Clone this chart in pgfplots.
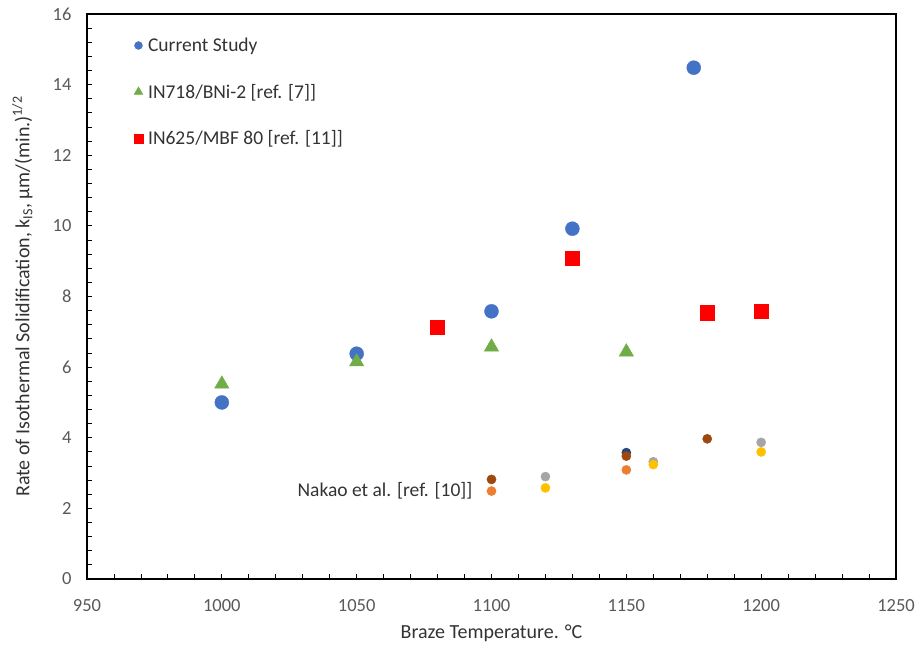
\documentclass[border=0pt]{standalone}
\usepackage{fontspec}
\setmainfont{Carlito}
\usepackage{pgfplots}
\pgfplotsset{compat=1.18}
\definecolor{cblue}{HTML}{4472C4}
\definecolor{cgreen}{HTML}{70AD47}
\definecolor{cred}{HTML}{FF0000}
\definecolor{cbrown}{HTML}{9E480E}
\definecolor{corange}{HTML}{ED7D31}
\definecolor{cgray}{HTML}{A5A5A5}
\definecolor{cyellow}{HTML}{FFC000}
\definecolor{cdblue}{HTML}{264478}
\definecolor{tickgray}{HTML}{595959}
\definecolor{labgray}{HTML}{333333}
\begin{document}
\begin{tikzpicture}
\begin{axis}[name=ax, scale only axis, width=809pt, height=565pt,
 xmin=950, xmax=1250, ymin=0, ymax=16,
 xtick={950,1000,...,1250}, ytick={0,2,...,16},
 minor x tick num=4, minor y tick num=4,
 tick pos=left, tick align=inside,
 major tick length=5pt, minor tick length=5pt,
 axis line style={line width=1.2pt, black},
 every tick/.style={line width=0.8pt, black},
 /pgf/number format/assume math mode=true,
 /pgf/number format/1000 sep={},
 ticklabel style={font=\fontsize{18.5}{22}\selectfont, text=tickgray},
 xticklabel style={yshift=-17pt},
 yticklabel style={xshift=-12pt},
 xlabel={Braze Temperature. °C},
 ylabel={Rate of Isothermal Solidification, k\textsubscript{IS}, μm/(min.)\textsuperscript{1/2}},
 label style={font=\fontsize{20}{24}\selectfont, text=labgray},
 xlabel style={at={(axis description cs:0.5,-0.0956)}, anchor=center},
 ylabel style={at={(axis description cs:-0.080,0.5)}, anchor=center},
 legend style={draw=none, fill=none, at={(axis description cs:0.054,0.965)}, anchor=north west,
   font=\fontsize{19.5}{23}\selectfont, text=labgray, row sep=27pt, legend cell align=left,
   /tikz/every odd column/.append style={column sep=3pt}},
 clip=false
]
% legend entries
\addlegendimage{only marks, mark=*, color=cblue, mark size=4pt}
\addlegendentry{Current Study}
\addlegendimage{only marks, mark=triangle*, color=cgreen, mark size=5pt}
\addlegendentry{IN718/BNi-2 [ref. [7]]}
\addlegendimage{only marks, mark=square*, color=cred, mark size=4.6pt}
\addlegendentry{IN625/MBF 80 [ref. [11]]}

% Current Study
\addplot[forget plot, only marks, color=cblue, mark=*, mark size=7pt] coordinates {
 (1000,5.00) (1050,6.38) (1100,7.58) (1130,9.92) (1175,14.48)};
% IN718/BNi-2
\addplot[forget plot, only marks, color=cgreen, mark=triangle*, mark size=8.3pt] coordinates {
 (1000,5.52) (1050,6.15) (1100,6.57) (1150,6.43)};
% IN625/MBF 80
\addplot[forget plot, only marks, color=cred, mark=square*, mark size=7.1pt] coordinates {
 (1080,7.14) (1130,9.09) (1180,7.54) (1200,7.59)};
% Nakao et al.
\addplot[forget plot, only marks, color=cdblue, mark=*, mark size=4.6pt] coordinates {
 (1150,3.58)};
\addplot[forget plot, only marks, color=cbrown, mark=*, mark size=4.6pt] coordinates {
 (1100,2.82) (1150,3.48) (1180,3.97)};
\addplot[forget plot, only marks, color=corange, mark=*, mark size=4.6pt] coordinates {
 (1100,2.49) (1150,3.09)};
\addplot[forget plot, only marks, color=cgray, mark=*, mark size=4.6pt] coordinates {
 (1120,2.90) (1160,3.32) (1200,3.87)};
\addplot[forget plot, only marks, color=cyellow, mark=*, mark size=4.6pt] coordinates {
 (1120,2.58) (1160,3.24) (1200,3.60)};
\node[anchor=base east, inner sep=0pt, font=\fontsize{19.5}{23}\selectfont, text=labgray] at (axis cs:1093,2.35) {Nakao et al. [ref. [10]]};
\end{axis}
\pgfresetboundingbox
\path ([shift={(-87pt,-70pt)}]ax.south west) rectangle ([shift={(22pt,14pt)}]ax.north east);
\end{tikzpicture}
\end{document}
